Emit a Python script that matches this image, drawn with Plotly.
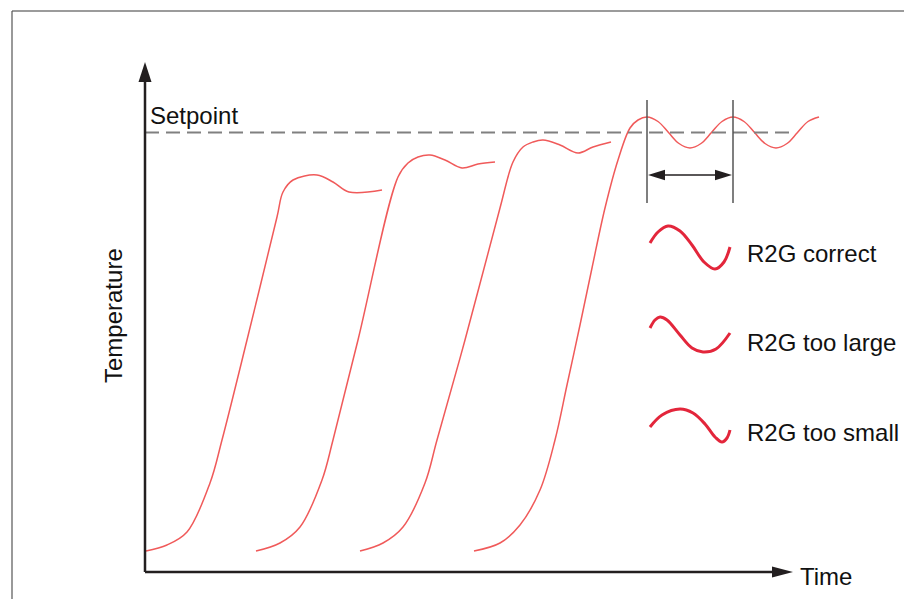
import plotly.graph_objects as go

# ---- data (time, temperature) ----
curve1_t = [1, 22, 42, 65, 77, 102, 132, 138, 148, 172, 188, 204, 237]
curve1_T = [21, 27, 40, 89, 132, 232, 355, 380, 392, 397, 390, 380, 382]

curve2_t = [111, 135, 155, 177, 188, 213, 253, 263, 273, 285, 300, 317, 333, 350]
curve2_T = [21, 29, 45, 92, 132, 232, 395, 409, 415, 417, 412, 404, 408, 410]

curve3_t = [215, 238, 258, 280, 292, 320, 355, 368, 378, 388, 398, 415, 433, 448, 466]
curve3_T = [21, 29, 45, 89, 132, 232, 364, 410, 425, 430, 432, 427, 419, 425, 430]

curve4_t = [329, 355, 375, 395, 410, 422, 435, 447, 460, 473, 485, 493, 502,
            513, 523.5, 534, 545, 556, 566.5, 577, 588, 599, 609.5, 620, 631, 642, 652.5, 663, 674]
curve4_T = [21, 29, 47, 82, 132, 187, 247, 304, 364, 412, 444, 452, 455,
            450.5, 439.5, 428.5, 424, 428.5, 439.5, 450.5, 455, 450.5, 439.5, 428.5, 424, 428.5, 439.5, 450.5, 455]

setpoint_T = 439.5
setpoint_t_end = 645
period_t = [502, 588]
period_T_span = [369, 472]
period_arrow_T = 397

icon_correct_t = [505, 513, 523, 535, 547, 559, 570, 579, 585]
icon_correct_T = [329, 340, 346, 341, 327, 310, 303, 310, 325]
icon_large_t = [505, 510, 515, 522, 535, 547, 558, 571, 585]
icon_large_T = [244, 252, 255, 252, 237, 224, 220, 223, 239]
icon_small_t = [505, 517, 535, 548, 560, 570, 577, 582, 585]
icon_small_T = [145, 157, 163, 159, 148, 135, 130, 134, 142]

legend_labels = ["R2G correct", "R2G too large", "R2G too small"]
legend_label_T = [319, 230, 140]

axis_t_end = 648
axis_T_end = 510

# ---- styles ----
CURVE = "#f05a5a"
ICON = "#e3263b"
AXIS = "#231f20"
FONT = "Arial, Liberation Sans, sans-serif"

fig = go.Figure()

for t, T in [(curve1_t, curve1_T), (curve2_t, curve2_T), (curve3_t, curve3_T), (curve4_t, curve4_T)]:
    fig.add_trace(go.Scatter(x=t, y=T, mode="lines", line=dict(color=CURVE, width=1.5, shape="spline", smoothing=1.0),
                             hoverinfo="skip", showlegend=False))

for t, T in [(icon_correct_t, icon_correct_T), (icon_large_t, icon_large_T), (icon_small_t, icon_small_T)]:
    fig.add_trace(go.Scatter(x=t, y=T, mode="lines", line=dict(color=ICON, width=3, shape="spline", smoothing=1.0),
                             hoverinfo="skip", showlegend=False))

shapes = []
# frame lines (top and left)
shapes.append(dict(type="line", x0=-133, x1=767, y0=561, y1=561, line=dict(color="#7a7a7a", width=1.5)))
shapes.append(dict(type="line", x0=-133, x1=-133, y0=561, y1=-27, line=dict(color="#555555", width=1.2)))
# setpoint
shapes.append(dict(type="line", x0=0, x1=setpoint_t_end, y0=setpoint_T, y1=setpoint_T,
                   line=dict(color="#808080", width=2, dash="14px,7px")))
# axes
shapes.append(dict(type="line", x0=0, x1=axis_t_end - 15, y0=0, y1=0, line=dict(color=AXIS, width=2.5)))
shapes.append(dict(type="line", x0=0, x1=0, y0=0, y1=axis_T_end - 15, line=dict(color=AXIS, width=2.5)))
shapes.append(dict(type="path", path=f"M {axis_t_end},0 L {axis_t_end-21},5.5 L {axis_t_end-21},-5.5 Z",
                   fillcolor=AXIS, line=dict(width=0)))
shapes.append(dict(type="path", path=f"M 0,{axis_T_end} L 6.5,{axis_T_end-20} L -6.5,{axis_T_end-20} Z",
                   fillcolor=AXIS, line=dict(width=0)))
# period markers
for t in period_t:
    shapes.append(dict(type="line", x0=t, x1=t, y0=period_T_span[0], y1=period_T_span[1],
                       line=dict(color="#555555", width=1.5)))
a0, a1 = period_t[0] + 1, period_t[1] - 1
shapes.append(dict(type="line", x0=a0 + 10, x1=a1 - 10, y0=period_arrow_T, y1=period_arrow_T,
                   line=dict(color=AXIS, width=1.3)))
shapes.append(dict(type="path", path=f"M {a0},{period_arrow_T} L {a0+17},{period_arrow_T+5.3} L {a0+17},{period_arrow_T-5.3} Z",
                   fillcolor=AXIS, line=dict(width=0)))
shapes.append(dict(type="path", path=f"M {a1},{period_arrow_T} L {a1-17},{period_arrow_T+5.3} L {a1-17},{period_arrow_T-5.3} Z",
                   fillcolor=AXIS, line=dict(width=0)))

annotations = [
    dict(x=3, y=457, text="Setpoint", xanchor="left", yanchor="middle"),
    dict(x=-32, y=256, text="Temperature", textangle=-90, xanchor="center", yanchor="middle"),
    dict(x=653, y=-4, text="Time", xanchor="left", yanchor="middle"),
]
for lab, T in zip(legend_labels, legend_label_T):
    annotations.append(dict(x=600, y=T, text=lab, xanchor="left", yanchor="middle"))
for a in annotations:
    a.update(xref="x", yref="y", showarrow=False, font=dict(family=FONT, size=24, color="#111111"))

# page body has an 8px margin, so the figure is 904x591 and its ranges start 8px in
fig.update_layout(
    width=904, height=591,
    margin=dict(l=0, r=0, t=0, b=0),
    paper_bgcolor="white", plot_bgcolor="white",
    xaxis=dict(range=[-137, 767], visible=False, fixedrange=True),
    yaxis=dict(range=[-27, 564], visible=False, fixedrange=True),
    shapes=shapes, annotations=annotations, showlegend=False,
)

fig.write_html("out.html")
